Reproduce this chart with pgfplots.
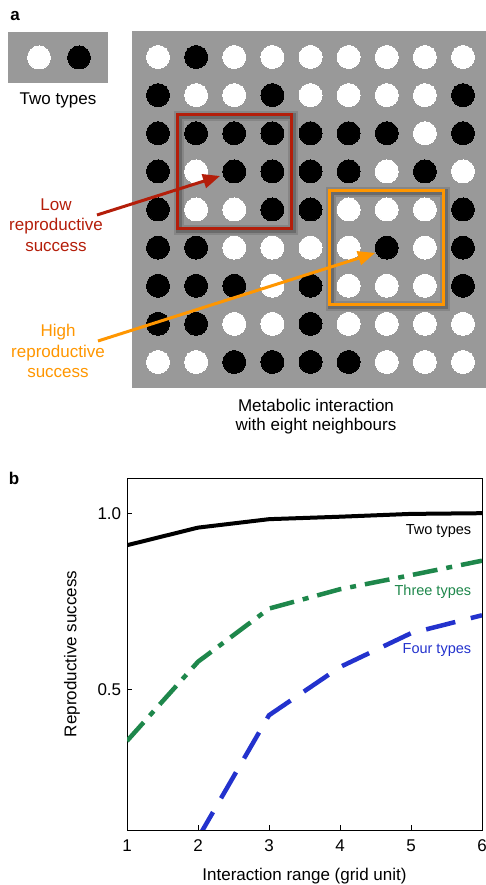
\documentclass[border=0pt]{standalone}
\usepackage{fontspec}
\setmainfont{Liberation Sans}
\usepackage{pgfplots}
\pgfplotsset{compat=1.18}
\usetikzlibrary{arrows.meta}
\definecolor{bg}{RGB}{153,153,153}
\definecolor{lowred}{RGB}{180,30,10}
\definecolor{highor}{RGB}{255,150,0}
\definecolor{tgreen}{RGB}{30,135,75}
\definecolor{fblue}{RGB}{35,50,205}
\begin{document}
\begin{tikzpicture}[x=1pt,y=1pt]
\useasboundingbox (0,0) rectangle (485,885);
\fontsize{17pt}{20pt}\selectfont
% ---------- panel a: small box ----------
\begin{axis}[at={(8pt,802pt)}, anchor=south west, scale only axis,
  width=100pt, height=51pt, xmin=0, xmax=100, ymin=0, ymax=51,
  ticks=none, axis line style={draw=none},
  axis background/.style={fill=bg}]
\addplot[white, only marks, mark=*, mark size=11.5pt, mark options={fill=white,draw=white,line width=0pt}] coordinates {(31,25.5)};
\addplot[black, only marks, mark=*, mark size=11.5pt, mark options={fill=black,draw=black,line width=0pt}] coordinates {(71,25.5)};
\end{axis}
% ---------- panel a: grid ----------
\begin{axis}[at={(132pt,497pt)}, anchor=south west, scale only axis,
  width=357pt, height=357pt, xmin=0.318, xmax=9.682, ymin=0.318, ymax=9.682,
  ticks=none, axis line style={draw=none}, clip=false,
  axis background/.style={fill=bg}]
\addplot[white, only marks, mark=*, mark size=11.5pt, mark options={fill=white,draw=white,line width=0pt}] coordinates {
(1,9)(3,9)(4,9)(5,9)(6,9)(7,9)(8,9)(9,9)
(2,8)(3,8)(5,8)(6,8)(7,8)(8,8)
(8,7)
(2,6)(7,6)(9,6)
(2,5)(3,5)(6,5)(7,5)(8,5)
(3,4)(4,4)(5,4)(6,4)(8,4)
(4,3)(6,3)(7,3)(8,3)
(3,2)(4,2)(6,2)(7,2)(8,2)(9,2)
(1,1)(2,1)(7,1)(8,1)(9,1)
};
\addplot[black, only marks, mark=*, mark size=11.5pt, mark options={fill=black,draw=black,line width=0pt}] coordinates {
(2,9)
(1,8)(4,8)(9,8)
(1,7)(2,7)(3,7)(4,7)(5,7)(6,7)(7,7)(9,7)
(1,6)(3,6)(4,6)(5,6)(6,6)(8,6)
(1,5)(4,5)(5,5)(9,5)
(1,4)(2,4)(7,4)(9,4)
(1,3)(2,3)(3,3)(5,3)(9,3)
(1,2)(2,2)(5,2)
(3,1)(4,1)(5,1)(6,1)
};
% shadows and boxes
\draw[black, opacity=0.12, line width=10pt] ([xshift=1.5pt,yshift=-1.5pt]axis cs:1.5,7.5) rectangle ([xshift=1.5pt,yshift=-1.5pt]axis cs:4.5,4.5);
\draw[black, opacity=0.2, line width=6pt] ([xshift=1.5pt,yshift=-1.5pt]axis cs:1.5,7.5) rectangle ([xshift=1.5pt,yshift=-1.5pt]axis cs:4.5,4.5);
\draw[black, opacity=0.12, line width=10pt] ([xshift=1.5pt,yshift=-1.5pt]axis cs:5.5,5.5) rectangle ([xshift=1.5pt,yshift=-1.5pt]axis cs:8.5,2.5);
\draw[black, opacity=0.2, line width=6pt] ([xshift=1.5pt,yshift=-1.5pt]axis cs:5.5,5.5) rectangle ([xshift=1.5pt,yshift=-1.5pt]axis cs:8.5,2.5);
\draw[lowred, line width=3pt] (axis cs:1.5,7.5) rectangle (axis cs:4.5,4.5);
\draw[highor, line width=3pt] (axis cs:5.5,5.5) rectangle (axis cs:8.5,2.5);
\end{axis}
% arrows and labels
\draw[lowred, line width=3pt, -{Triangle[length=17pt,width=14pt]}] (97,670) -- (220,709);
\draw[highor, line width=3pt, -{Triangle[length=17pt,width=14pt]}] (98,544) -- (375,632);
\node[lowred, align=center, font=\fontsize{17pt}{20.5pt}\selectfont] at (56,660) {Low\\reproductive\\success};
\node[highor, align=center, font=\fontsize{17pt}{20.5pt}\selectfont] at (58,534) {High\\reproductive\\success};
\node[font=\fontsize{17pt}{20pt}\selectfont] at (58,785) {Two types};
\node[align=center, font=\fontsize{17pt}{19pt}\selectfont] at (316,468) {Metabolic interaction\\with eight neighbours};
\node[font=\bfseries\fontsize{17pt}{20pt}\selectfont] at (15,869) {a};
\node[font=\bfseries\fontsize{17pt}{20pt}\selectfont] at (14,407) {b};
% ---------- panel b ----------
\begin{axis}[at={(127pt,55pt)}, anchor=south west, scale only axis,
  width=355pt, height=352pt, xmin=1, xmax=6, ymin=0.1, ymax=1.1,
  xtick={1,2,3,4,5,6}, ytick={0.5,1.0},
  yticklabel style={/pgf/number format/.cd, fixed, fixed zerofill, precision=1},
  /pgf/number format/assume math mode=true,
  tick pos=left, major tick length=5pt,
  tick style={black, line width=0.8pt}, axis line style={line width=0.8pt},
  ticklabel style={font=\fontsize{17pt}{20pt}\selectfont},
  xticklabel style={yshift=-4pt},
  label style={font=\fontsize{17pt}{20pt}\selectfont},
  xlabel={Interaction range (grid unit)}, ylabel={Reproductive success},
  xlabel style={at={(axis description cs:0.5,-0.13)}, anchor=center},
  ylabel style={at={(axis description cs:-0.155,0.5)}, anchor=center},
  ]
\addplot[black, line width=4pt] coordinates {(1,0.909)(2,0.959)(3,0.983)(4,0.99)(5,0.998)(6,1.0)};
\addplot[tgreen, line width=4.5pt, dash pattern=on 25pt off 9pt on 6pt off 9pt] coordinates {(1,0.353)(2,0.578)(3,0.729)(4,0.784)(5,0.824)(6,0.865)};
\addplot[fblue, line width=4.5pt, dash pattern=on 30pt off 16pt] coordinates {(2,0.077)(3,0.426)(4,0.563)(5,0.659)(6,0.71)};
\node[anchor=east, black, font=\fontsize{14.5pt}{17pt}\selectfont] at (axis cs:5.93,0.949) {Two types};
\node[anchor=east, tgreen, font=\fontsize{14.5pt}{17pt}\selectfont] at (axis cs:5.93,0.778) {Three types};
\node[anchor=east, fblue, font=\fontsize{14.5pt}{17pt}\selectfont] at (axis cs:5.93,0.611) {Four types};
\end{axis}
\end{tikzpicture}
\end{document}
